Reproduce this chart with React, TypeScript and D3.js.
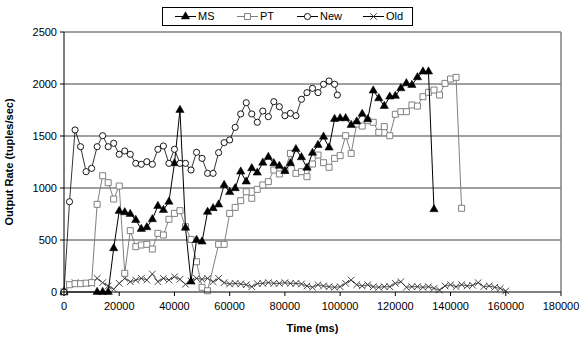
import * as React from 'react';
import * as d3 from 'd3';

// time stamps in ms, rates in tuples/sec
const msTime = [0, 12000, 14000, 16000, 18000, 20000, 22000, 24000, 26000, 28000, 30000, 32000, 34000, 36000, 38000, 40000, 42000, 44000, 46000, 48000, 50000, 52000, 54000, 56000, 58000, 60000, 62000, 64000, 66000, 68000, 70000, 72000, 74000, 76000, 78000, 80000, 82000, 84000, 86000, 88000, 90000, 92000, 94000, 96000, 98000, 100000, 102000, 104000, 106000, 108000, 110000, 112000, 114000, 116000, 118000, 120000, 122000, 124000, 126000, 128000, 130000, 132000, 134000];
const msRate = [0, 0, 0, 0, 420, 779, 766, 750, 692, 606, 622, 699, 827, 788, 868, 1237, 1750, 618, 99, 500, 484, 770, 805, 840, 1029, 960, 997, 1157, 1061, 1189, 1147, 1243, 1298, 1237, 1212, 1163, 1237, 1373, 1295, 1194, 1337, 1413, 1493, 1388, 1663, 1670, 1670, 1606, 1638, 1712, 1660, 1936, 1862, 1788, 1878, 1885, 1958, 2006, 1990, 2064, 2119, 2119, 795];

const ptTime = [0, 2000, 4000, 6000, 8000, 10000, 12000, 14000, 16000, 18000, 20000, 22000, 24000, 26000, 28000, 30000, 32000, 34000, 36000, 38000, 40000, 42000, 44000, 46000, 48000, 50000, 52000, 56000, 58000, 60000, 62000, 64000, 66000, 68000, 70000, 72000, 74000, 76000, 78000, 80000, 82000, 84000, 86000, 88000, 90000, 92000, 94000, 96000, 98000, 100000, 102000, 104000, 106000, 108000, 110000, 112000, 114000, 116000, 118000, 120000, 122000, 124000, 126000, 128000, 130000, 132000, 134000, 136000, 138000, 140000, 142000, 144000];
const ptRate = [0, 70, 80, 80, 85, 90, 843, 1118, 1051, 894, 1019, 180, 590, 436, 452, 458, 413, 564, 548, 699, 756, 782, 628, 506, 291, 45, 12, 458, 458, 756, 814, 878, 964, 901, 987, 1029, 1061, 1173, 1135, 1167, 1333, 1141, 1157, 1109, 1231, 1317, 1243, 1199, 1285, 1311, 1503, 1333, 1615, 1596, 1647, 1632, 1535, 1590, 1503, 1709, 1734, 1734, 1798, 1788, 1878, 1920, 1942, 1894, 2006, 2048, 2064, 805];

const newTime = [0, 2000, 4000, 6000, 8000, 10000, 12000, 14000, 16000, 18000, 20000, 22000, 24000, 26000, 28000, 30000, 32000, 34000, 36000, 38000, 40000, 42000, 44000, 46000, 48000, 50000, 52000, 54000, 56000, 58000, 60000, 62000, 64000, 66000, 68000, 70000, 72000, 74000, 76000, 78000, 80000, 82000, 84000, 86000, 88000, 90000, 92000, 94000, 96000, 98000, 99000];
const newRate = [0, 868, 1558, 1397, 1157, 1189, 1397, 1503, 1397, 1430, 1324, 1356, 1324, 1237, 1228, 1253, 1228, 1372, 1404, 1237, 1372, 1237, 1237, 1173, 1343, 1285, 1141, 1141, 1340, 1436, 1462, 1583, 1712, 1820, 1712, 1632, 1740, 1686, 1830, 1782, 1695, 1718, 1695, 1853, 1917, 1958, 1917, 1997, 2029, 1997, 1894];

const oldTime = d3.range(0, 160001, 2000);
const oldRate = [0, 77, 90, 83, 80, 83, 131, 90, 58, 26, 83, 131, 99, 115, 131, 115, 173, 99, 131, 115, 147, 122, 74, 106, 131, 122, 131, 99, 131, 90, 77, 83, 77, 70, 51, 80, 83, 90, 83, 83, 90, 83, 83, 77, 58, 45, 70, 58, 51, 45, 51, 83, 115, 70, 58, 70, 51, 45, 51, 51, 83, 99, 45, 51, 51, 45, 51, 35, 19, 58, 70, 51, 70, 58, 64, 90, 51, 58, 45, 35, 10];

const xTicks = d3.range(0, 180001, 20000);
const yTicks = [0, 500, 1000, 1500, 2000, 2500];
const seriesNames = ['MS', 'PT', 'New', 'Old'];

const W = 584;
const H = 337;
const margin = { top: 32, right: 23, bottom: 45, left: 64 };
const font = '"Liberation Sans", Arial, sans-serif';

type Pt = [number, number];

const zip = (t: number[], v: number[]): Pt[] => t.map((d, i) => [d, v[i]]);

function Marker({ kind, x, y }: { kind: string; x: number; y: number }) {
  if (kind === 'MS') {
    const p = d3.symbol(d3.symbolTriangle, 30)() as string;
    return <path d={p} transform={`translate(${x},${y})`} fill="#000" stroke="#000" strokeWidth={0.5} />;
  }
  if (kind === 'PT') {
    const p = d3.symbol(d3.symbolSquare, 36)() as string;
    return <path d={p} transform={`translate(${x},${y})`} fill="#fff" stroke="#808080" strokeWidth={1} />;
  }
  if (kind === 'New') {
    const p = d3.symbol(d3.symbolCircle, 30)() as string;
    return <path d={p} transform={`translate(${x},${y})`} fill="#fff" stroke="#000" strokeWidth={0.9} />;
  }
  const times = (d3 as any).symbolTimes ?? (d3 as any).symbolX;
  const p = d3.symbol(times, 30)() as string;
  return <path d={p} transform={`translate(${x},${y})`} fill="none" stroke="#333" strokeWidth={0.9} />;
}

export default function App() {
  React.useEffect(() => {
    document.body.style.margin = '0';
  }, []);

  const x = d3.scaleLinear().domain([0, 180000]).range([margin.left, W - margin.right]);
  const y = d3.scaleLinear().domain([0, 2500]).range([H - margin.bottom, margin.top]);
  const line = d3.line<Pt>().x(d => x(d[0])).y(d => y(d[1]));

  const series = [
    { name: 'Old', data: zip(oldTime, oldRate), stroke: '#444', width: 0.9 },
    { name: 'PT', data: zip(ptTime, ptRate), stroke: '#808080', width: 1 },
    { name: 'MS', data: zip(msTime, msRate), stroke: '#000', width: 1 },
    { name: 'New', data: zip(newTime, newRate), stroke: '#000', width: 0.8 },
  ];

  const x0 = margin.left;
  const x1 = W - margin.right;
  const y0 = H - margin.bottom;
  const y1 = margin.top;

  // legend layout
  const legendX = [175, 237, 297, 363];

  return (
    <svg width={W} height={H} style={{ display: 'block', background: '#fff' }} fontFamily={font}>
      {/* grid */}
      {yTicks.filter(t => t > 0).map(t => (
        <line key={t} x1={x0} x2={x1} y1={y(t)} y2={y(t)} stroke="#808080" strokeWidth={1.5} />
      ))}
      <line x1={x1} x2={x1} y1={y1} y2={y0} stroke="#808080" strokeWidth={1.5} />

      {/* series */}
      {series.map(s => (
        <g key={s.name}>
          <path d={line(s.data) as string} fill="none" stroke={s.stroke} strokeWidth={s.width} />
          {s.data.map((d, i) => (
            <Marker key={i} kind={s.name} x={x(d[0])} y={y(d[1])} />
          ))}
        </g>
      ))}

      {/* axes */}
      <line x1={x0} x2={x0} y1={y1} y2={y0} stroke="#000" strokeWidth={1} />
      <line x1={x0} x2={x1} y1={y0} y2={y0} stroke="#000" strokeWidth={1} />
      {yTicks.map(t => (
        <g key={t}>
          <line x1={x0 - 4} x2={x0} y1={y(t)} y2={y(t)} stroke="#000" />
          <text x={x0 - 7} y={y(t)} dy="0.35em" textAnchor="end" fontSize={11}>{t}</text>
        </g>
      ))}
      {xTicks.map(t => (
        <g key={t}>
          <line x1={x(t)} x2={x(t)} y1={y0} y2={y0 + 4} stroke="#000" />
          <text x={x(t)} y={y0 + 18} textAnchor="middle" fontSize={11}>{t}</text>
        </g>
      ))}
      <text x={(x0 + x1) / 2} y={H - 5} textAnchor="middle" fontSize={11} fontWeight="bold">Time (ms)</text>
      <text transform={`translate(13,${(y0 + y1) / 2}) rotate(-90)`} textAnchor="middle" fontSize={11} fontWeight="bold">
        Output Rate (tuples/sec)
      </text>

      {/* legend */}
      <rect x={162.5} y={7.5} width={250} height={18} fill="#fff" stroke="#000" strokeWidth={1} />
      {seriesNames.map((n, i) => (
        <g key={n}>
          <line x1={legendX[i]} x2={legendX[i] + 21} y1={16.5} y2={16.5} stroke={n === 'PT' ? '#808080' : '#000'} strokeWidth={1} />
          <Marker kind={n} x={legendX[i] + 10.5} y={16.5} />
          <text x={legendX[i] + 23} y={16.5} dy="0.35em" fontSize={11}>{n}</text>
        </g>
      ))}
    </svg>
  );
}
